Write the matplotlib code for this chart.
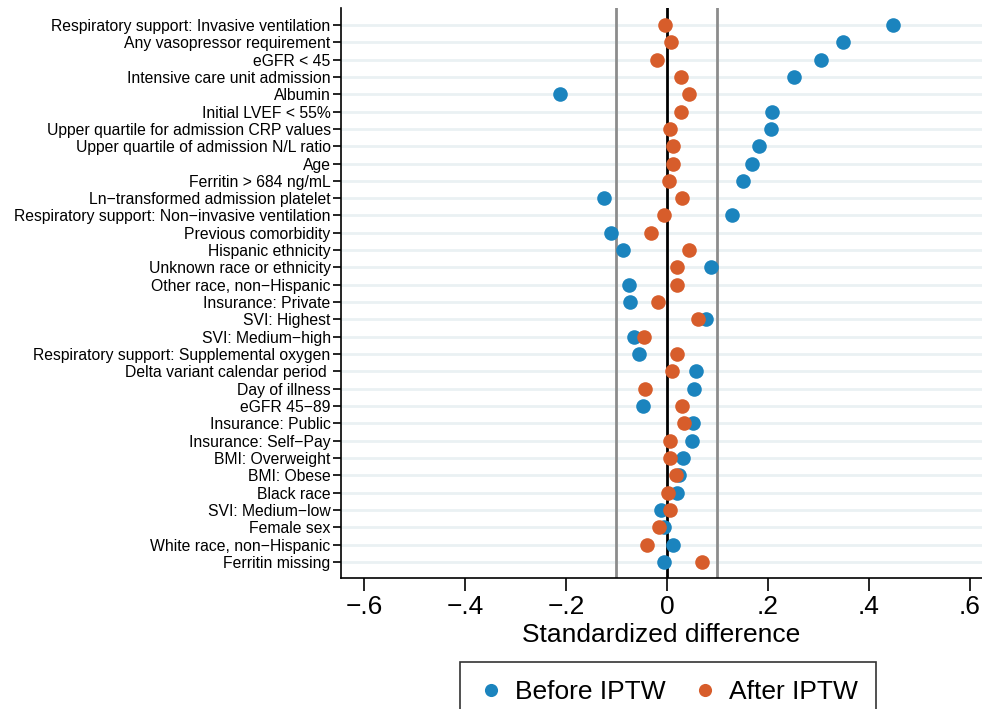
import matplotlib
matplotlib.use('Agg')
import matplotlib.pyplot as plt
import numpy as np
from matplotlib.ticker import FixedLocator, FixedFormatter

plt.rcParams['font.family'] = ['Liberation Sans', 'DejaVu Sans']

# covariates, top to bottom
labels = [
    'Respiratory support: Invasive ventilation',
    'Any vasopressor requirement',
    'eGFR < 45',
    'Intensive care unit admission',
    'Albumin',
    'Initial LVEF < 55%',
    'Upper quartile for admission CRP values',
    'Upper quartile of admission N/L ratio',
    'Age',
    'Ferritin > 684 ng/mL',
    'Ln\u2212transformed admission platelet',
    'Respiratory support: Non\u2212invasive ventilation',
    'Previous comorbidity',
    'Hispanic ethnicity',
    'Unknown race or ethnicity',
    'Other race, non\u2212Hispanic',
    'Insurance: Private',
    'SVI: Highest',
    'SVI: Medium\u2212high',
    'Respiratory support: Supplemental oxygen',
    'Delta variant calendar period ',
    'Day of illness',
    'eGFR 45\u221289',
    'Insurance: Public',
    'Insurance: Self\u2212Pay',
    'BMI: Overweight',
    'BMI: Obese',
    'Black race',
    'SVI: Medium\u2212low',
    'Female sex',
    'White race, non\u2212Hispanic',
    'Ferritin missing',
]

before = [0.448, 0.349, 0.305, 0.251, -0.212, 0.208, 0.206, 0.182, 0.168, 0.150,
          -0.125, 0.129, -0.111, -0.087, 0.087, -0.075, -0.073, 0.077, -0.065, -0.055,
          0.057, 0.053, -0.048, 0.051, 0.050, 0.032, 0.024, 0.020, -0.012, -0.006,
          0.012, -0.006]
after = [-0.004, 0.008, -0.020, 0.028, 0.044, 0.028, 0.006, 0.012, 0.012, 0.004,
         0.030, -0.006, -0.032, 0.044, 0.020, 0.020, -0.018, 0.061, -0.046, 0.020,
         0.010, -0.044, 0.030, 0.034, 0.006, 0.006, 0.018, 0.002, 0.006, -0.016,
         -0.040, 0.069]

xticks = [-0.6, -0.4, -0.2, 0, 0.2, 0.4, 0.6]
xticklabels = ['\u2212.6', '\u2212.4', '\u2212.2', '0', '.2', '.4', '.6']

blue = '#1b84be'
orange = '#d75d2b'


def main():
    fig = plt.figure(figsize=(9.82, 7.09), dpi=100)
    ax = fig.add_axes([0.3473, 0.1848, 0.6527, 0.8039])

    y = np.arange(1, len(labels) + 1)

    for yy in y:
        ax.axhline(yy, color='#eaf1f3', lw=2, zorder=0)
    ax.axvline(-0.1, color='#8c8c8c', lw=2, zorder=1)
    ax.axvline(0.1, color='#8c8c8c', lw=2, zorder=1)
    ax.axvline(0, color='black', lw=2, zorder=1)

    ax.plot(before, y, 'o', color=blue, ms=10.5, mec='none', zorder=3, label='Before IPTW')
    ax.plot(after, y, 'o', color=orange, ms=10.5, mec='none', zorder=4, label='After IPTW')

    ax.set_xlim(-0.6455, 0.624)
    ax.set_ylim(32.93, 0.02)

    ax.set_yticks(y)
    ax.set_yticklabels(labels, fontsize=11.3)
    ax.xaxis.set_major_locator(FixedLocator(xticks))
    ax.xaxis.set_major_formatter(FixedFormatter(xticklabels))
    ax.tick_params(axis='x', labelsize=19, length=9, width=1.2, pad=3)
    ax.tick_params(axis='y', length=6, width=1.2, pad=1.5)
    ax.set_xlabel('Standardized difference', fontsize=19, labelpad=3)

    for s in ['top', 'right']:
        ax.spines[s].set_visible(False)
    for s in ['left', 'bottom']:
        ax.spines[s].set_linewidth(1.2)

    leg = fig.legend(loc='upper center', bbox_to_anchor=(668 / 982, 1 - 662 / 709), ncol=2,
                     fontsize=19, frameon=True, fancybox=False, edgecolor='black',
                     handlelength=1.0, handletextpad=0.4, columnspacing=1.0,
                     markerscale=0.9, borderpad=0.7, borderaxespad=0)
    leg.get_frame().set_linewidth(1.2)

    fig.savefig('out.png', dpi=100)


if __name__ == '__main__':
    main()
